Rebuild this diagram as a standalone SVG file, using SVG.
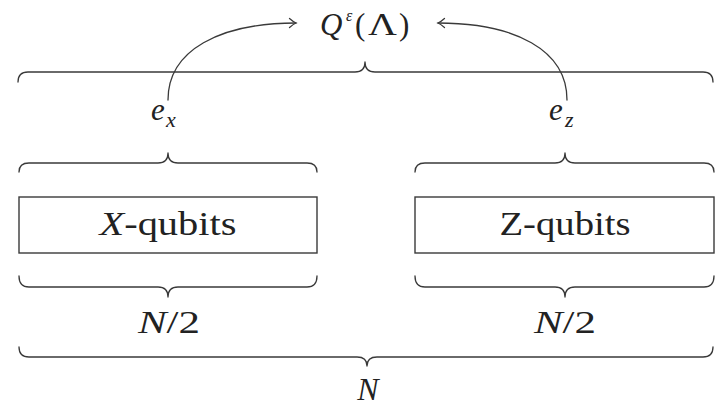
<svg xmlns="http://www.w3.org/2000/svg" width="721" height="408" viewBox="0 0 721 408">
<defs>
<style>
.ln{fill:none;stroke:#3a3a3a;stroke-width:1.3;stroke-linecap:round;stroke-linejoin:round}
.box{fill:#fff;stroke:#3a3a3a;stroke-width:1.4}
.t{fill:#222}
.m{font-style:italic}
</style>
<marker id="to" viewBox="-8 -6 10 12" markerWidth="10" markerHeight="12" refX="0" refY="0" orient="auto" markerUnits="userSpaceOnUse">
<path d="M-6.5,-4.5 Q-2.5,-1 0,0 Q-2.5,1 -6.5,4.5" fill="none" stroke="#3a3a3a" stroke-width="1.3" stroke-linecap="round"/>
</marker>
</defs>
<rect width="721" height="408" fill="#fff"/>

<g id="braces">
<path id="brace-top" class="ln" d="M18,82 C18,75 21,72 28,72 L355,72 C362,72 365,68 365,62 C365,68 368,72 375,72 L703,72 C710,72 713,75 713,82"/>
<path id="brace-x-top" class="ln" d="M19,172 C19,166 22,163 29,163 L158,163 C165,163 168,159 168,153 C168,159 171,163 178,163 L307,163 C314,163 317,166 317,172"/>
<path id="brace-z-top" class="ln" d="M415,172 C415,166 418,163 425,163 L555,163 C562,163 565,159 565,153 C565,159 568,163 575,163 L704,163 C711,163 714,166 714,172"/>
<path id="brace-x-bot" class="ln" d="M19,276 C19,283 22,287 29,287 L158,287 C165,287 168,291 168,297 C168,291 171,287 178,287 L307,287 C314,287 317,283 317,276"/>
<path id="brace-z-bot" class="ln" d="M415,276 C415,283 418,287 425,287 L555,287 C562,287 565,291 565,297 C565,291 568,287 575,287 L704,287 C711,287 714,283 714,276"/>
<path id="brace-n" class="ln" d="M19,347 C19,354 22,357 29,357 L357,357 C364,357 367,360 367,366 C367,360 370,357 377,357 L703,357 C710,357 713,354 713,347"/>
</g>

<g id="q" font-family="'Liberation Serif', 'DejaVu Serif', serif" font-size="31">
<text class="t m" x="320" y="35">Q</text>
<text class="t m" x="346" y="21" font-size="16">ε</text>
<text class="t" x="355" y="35">(</text>
<text class="t" x="368" y="35" textLength="29" lengthAdjust="spacingAndGlyphs">Λ</text>
<text class="t" x="399" y="35">)</text>
</g>

<g id="ex" font-family="'Liberation Serif', 'DejaVu Serif', serif">
<text class="t m" x="151" y="120" font-size="31">e</text>
<text class="t m" x="166" y="127" font-size="22">x</text>
</g>
<g id="ez" font-family="'Liberation Serif', 'DejaVu Serif', serif">
<text class="t m" x="549" y="120" font-size="31">e</text>
<text class="t m" x="565" y="127" font-size="22">z</text>
</g>

<g id="xqubits">
<rect class="box" x="19" y="197" width="298" height="56"/>
<text class="t" x="168" y="235" text-anchor="middle" font-family="'Liberation Serif', 'DejaVu Serif', serif" font-size="34" textLength="137" lengthAdjust="spacingAndGlyphs"><tspan class="m">X</tspan>-qubits</text>
</g>
<g id="zqubits">
<rect class="box" x="415" y="197" width="299" height="56"/>
<text class="t" x="565" y="235" text-anchor="middle" font-family="'Liberation Serif', 'DejaVu Serif', serif" font-size="34" textLength="131" lengthAdjust="spacingAndGlyphs">Z-qubits</text>
</g>

<g id="n2x"><text class="t" x="169" y="333" text-anchor="middle" font-family="'Liberation Serif', 'DejaVu Serif', serif" font-size="32" textLength="62" lengthAdjust="spacingAndGlyphs"><tspan class="m">N</tspan>/2</text></g>
<g id="n2z"><text class="t" x="565" y="333" text-anchor="middle" font-family="'Liberation Serif', 'DejaVu Serif', serif" font-size="32" textLength="62" lengthAdjust="spacingAndGlyphs"><tspan class="m">N</tspan>/2</text></g>
<g id="n"><text class="t m" x="368" y="400" text-anchor="middle" font-family="'Liberation Serif', 'DejaVu Serif', serif" font-size="32">N</text></g>

<g id="connectors">
<path class="ln" d="M168,100 C168,50 220,23 296,23" marker-end="url(#to)"/>
<path class="ln" d="M567,100 C567,50 515,23 438,23" marker-end="url(#to)"/>
</g>
</svg>
